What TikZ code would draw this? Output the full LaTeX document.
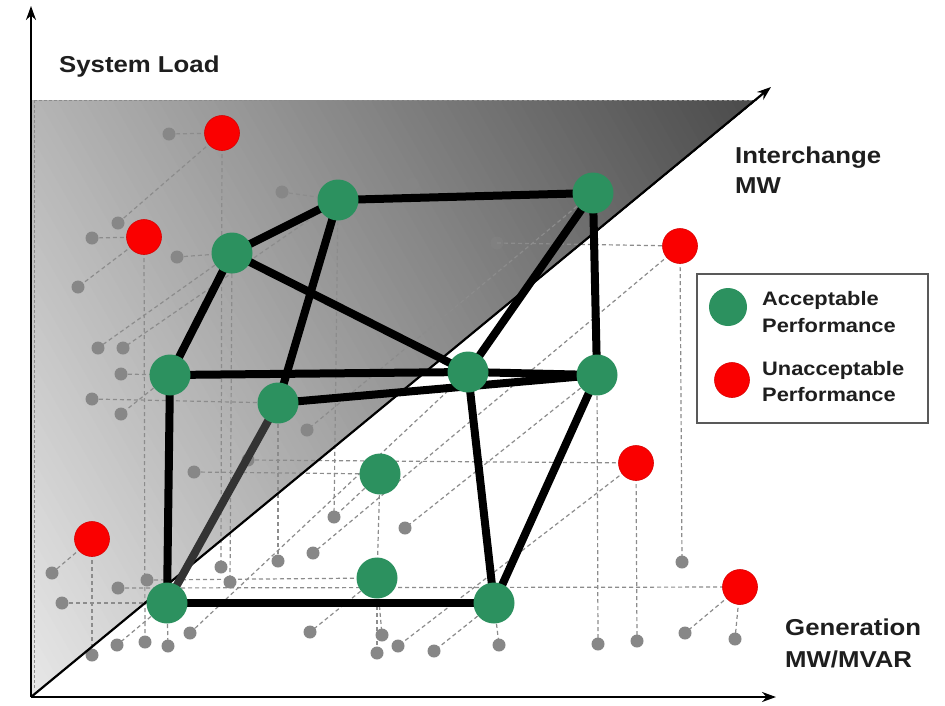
\documentclass[tikz,border=0pt]{standalone}
\usepackage{fontspec}
\setmainfont{Liberation Sans}
\newfontfamily\lab[FakeStretch=1.12]{Liberation Sans}
\usetikzlibrary{arrows.meta}
\definecolor{okgreen}{RGB}{44,145,95}
\definecolor{badred}{RGB}{250,0,0}
\definecolor{dotgray}{RGB}{135,135,135}
\definecolor{dashgray}{RGB}{140,140,140}
\definecolor{txt}{RGB}{30,30,30}
\pgfdeclarelayer{bgl}
\pgfdeclarelayer{dashl}
\pgfdeclarelayer{dotl}
\pgfdeclarelayer{edgel}
\pgfsetlayers{bgl,dashl,dotl,edgel,main}
\tikzset{
 pdash/.style={draw=dashgray, line width=1.2pt, dash pattern=on 4pt off 3pt},
 gdot/.style={circle, fill=dotgray, inner sep=0pt, minimum size=13pt},
 fdot/.style={circle, fill=dotgray, fill opacity=0.35, inner sep=0pt, minimum size=13pt},
 okn/.style={circle, fill=okgreen, inner sep=0pt, minimum size=41pt},
 badn/.style={circle, fill=badred, draw=red!85!black, line width=0.6pt, inner sep=0pt, minimum size=35pt},
 link/.style={line width=8pt, draw=black},
 axisline/.style={line width=2.2pt, draw=black, -{Stealth[length=14pt,width=10pt]}},
 lbl/.style={font=\lab\bfseries\fontsize{23}{28}\selectfont, text=txt, inner sep=0pt, anchor=base west},
 leg/.style={font=\lab\bfseries\fontsize{19.5}{24}\selectfont, text=txt, inner sep=0pt, anchor=base west},
}
\begin{document}
\begin{tikzpicture}[x=1pt,y=-1pt]
\useasboundingbox (0,0) rectangle (945,705);

% axis points
\coordinate (O) at (31,697);
\coordinate (Ytip) at (31,6);
\coordinate (Xtip) at (776,697);
\coordinate (Ztip) at (771,87);
\coordinate (TL) at (34,100);
\coordinate (TR) at (756,100);

% background and shaded wedge
\begin{pgfonlayer}{bgl}
\fill[white] (0,0) rectangle (945,705);
\begin{scope}
\clip (31,697) -- (31,100) -- (756,100) -- cycle;
\foreach \i in {0,...,117}{
  \pgfmathsetmacro{\u}{8*\i}
  \pgfmathtruncatemacro{\g}{max(70,232-0.17*(\u+4))}
  \definecolor{shd}{RGB}{\g,\g,\g}
  \pgfmathsetmacro{\ax}{32+\u*0.866-1200*0.5}
  \pgfmathsetmacro{\ay}{697-\u*0.5-1200*0.866}
  \pgfmathsetmacro{\bx}{32+\u*0.866+1200*0.5}
  \pgfmathsetmacro{\by}{697-\u*0.5+1200*0.866}
  \pgfmathsetmacro{\cx}{32+1000*0.866+1200*0.5}
  \pgfmathsetmacro{\cy}{697-1000*0.5+1200*0.866}
  \pgfmathsetmacro{\dx}{32+1000*0.866-1200*0.5}
  \pgfmathsetmacro{\dy}{697-1000*0.5-1200*0.866}
  \fill[shd] (\ax,\ay) -- (\bx,\by) -- (\cx,\cy) -- (\dx,\dy) -- cycle;
}
\end{scope}
\draw[dashgray, line width=1pt, dash pattern=on 3pt off 2pt] (TL) -- (TR);
\draw[dashgray, line width=1pt, dash pattern=on 3pt off 2pt] (TL) -- (34,690);
\end{pgfonlayer}

% gray dots
\begin{pgfonlayer}{dotl}
\node[gdot] (d1) at (169,134) {};
\node[gdot] (d2) at (282,192) {};
\node[gdot] (d3) at (118,223) {};
\node[gdot] (d4) at (92,238) {};
\node[gdot] (d5) at (177,257) {};
\node[gdot] (d6) at (78,287) {};
\node[gdot] (d7) at (98,348) {};
\node[gdot] (d8) at (123,348) {};
\node[gdot] (d9) at (121,374) {};
\node[gdot] (d10) at (92,399) {};
\node[gdot] (d11) at (121,414) {};
\node[gdot] (d12) at (307,430) {};
\node[gdot] (d13) at (194,472) {};
\node[gdot] (d14) at (248,460) {};
\node[gdot] (d15) at (52,573) {};
\node[gdot] (d16) at (118,588) {};
\node[gdot] (d17) at (62,603) {};
\node[gdot] (d18) at (147,580) {};
\node[gdot] (d19) at (221,567) {};
\node[gdot] (d20) at (230,582) {};
\node[gdot] (d21) at (278,561) {};
\node[gdot] (d22) at (334,517) {};
\node[gdot] (d23) at (313,553) {};
\node[gdot] (d24) at (310,632) {};
\node[gdot] (d25) at (92,655) {};
\node[gdot] (d26) at (117,645) {};
\node[gdot] (d27) at (145,642) {};
\node[gdot] (d28) at (168,646) {};
\node[gdot] (d29) at (190,633) {};
\node[gdot] (d31) at (405,528) {};
\node[gdot] (d32) at (382,635) {};
\node[gdot] (d33) at (377,653) {};
\node[gdot] (d34) at (398,646) {};
\node[gdot] (d35) at (434,651) {};
\node[gdot] (d36) at (499,645) {};
\node[gdot] (d37) at (598,644) {};
\node[gdot] (d38) at (637,641) {};
\node[gdot] (d39) at (682,562) {};
\node[gdot] (d40) at (685,633) {};
\node[gdot] (d41) at (735,639) {};
\node[fdot] (d42) at (413,184) {};
\node[fdot] (d43) at (497,243) {};
\end{pgfonlayer}

% coloured nodes
\node[okn] (G1) at (338,200) {};
\node[okn] (G2) at (593,193) {};
\node[okn] (G3) at (232,253) {};
\node[okn] (G4) at (170,375) {};
\node[okn] (G5) at (468,372) {};
\node[okn] (G6) at (597,375) {};
\node[okn] (G7) at (278,403) {};
\node[okn] (G8) at (380,474) {};
\node[okn] (G9) at (377,578) {};
\node[okn] (G10) at (167,603) {};
\node[okn] (G11) at (494,603) {};
\node[badn] (R1) at (222,133) {};
\node[badn] (R2) at (144,237) {};
\node[badn] (R3) at (680,246) {};
\node[badn] (R4) at (636,463) {};
\node[badn] (R5) at (92,539) {};
\node[badn] (R6) at (740,587) {};

% dashed projection lines
\begin{pgfonlayer}{dashl}
\foreach \a/\b in {d1/R1,d4/R2,d2/G1,d5/G3,d9/G4,d10/G7,d13/G8,d14/R4,d17/G10,d16/R6,d18/G9,d43/R3,
  R1/d19,R2/d27,G3/d20,G1/d22,G7/d21,G8/G9,G9/d32,G9/d33,G11/d36,G6/d37,R4/d38,R3/d39,R6/d41,R5/d25,G10/d28,
  R1/d3,R2/d6,G3/d7,G1/d8,G4/d11,G2/d12,R3/d23,G8/d22,G6/d31,R4/d34,G11/d35,G9/d24,R5/d15,G10/d26,d29/G5,R6/d40}
  {\draw[pdash] (\a.center) -- (\b.center);}
\end{pgfonlayer}

% axes and black links
\begin{pgfonlayer}{edgel}
\draw[axisline] (O) -- (Ytip);
\draw[axisline] (O) -- (Xtip);
\draw[axisline] (O) -- (Ztip);
\foreach \a/\b in {G3/G1,G1/G2,G3/G4,G3/G5,G1/G7,G2/G6,G2/G5,G4/G5,G5/G6,G7/G6,G4/G10,G10/G11,G5/G11,G6/G11}
  {\draw[link] (\a.center) -- (\b.center);}
\draw[link, draw=black!80] (G7.center) -- (G10.center);
\end{pgfonlayer}

% labels
\node[lbl] (ylab) at (59,72) {System Load};
\node[lbl] (zlab1) at (735,163) {Interchange};
\node[lbl] (zlab2) at (735,193) {MW};
\node[lbl] (xlab1) at (785,635) {Generation};
\node[lbl] (xlab2) at (785,667) {MW/MVAR};

% legend
\node[draw=black!65, line width=1.8pt, minimum width=231pt, minimum height=149pt, inner sep=0pt, anchor=north west] (legbox) at (696,273) {};
\node[okn, minimum size=38pt] (lg) at (728,307) {};
\node[badn, minimum size=35pt] (lr) at (732,380) {};
\node[leg] (lt1) at (762,305) {Acceptable};
\node[leg] (lt2) at (762,332) {Performance};
\node[leg] (lt3) at (762,375) {Unacceptable};
\node[leg] (lt4) at (762,401) {Performance};
\end{tikzpicture}
\end{document}
